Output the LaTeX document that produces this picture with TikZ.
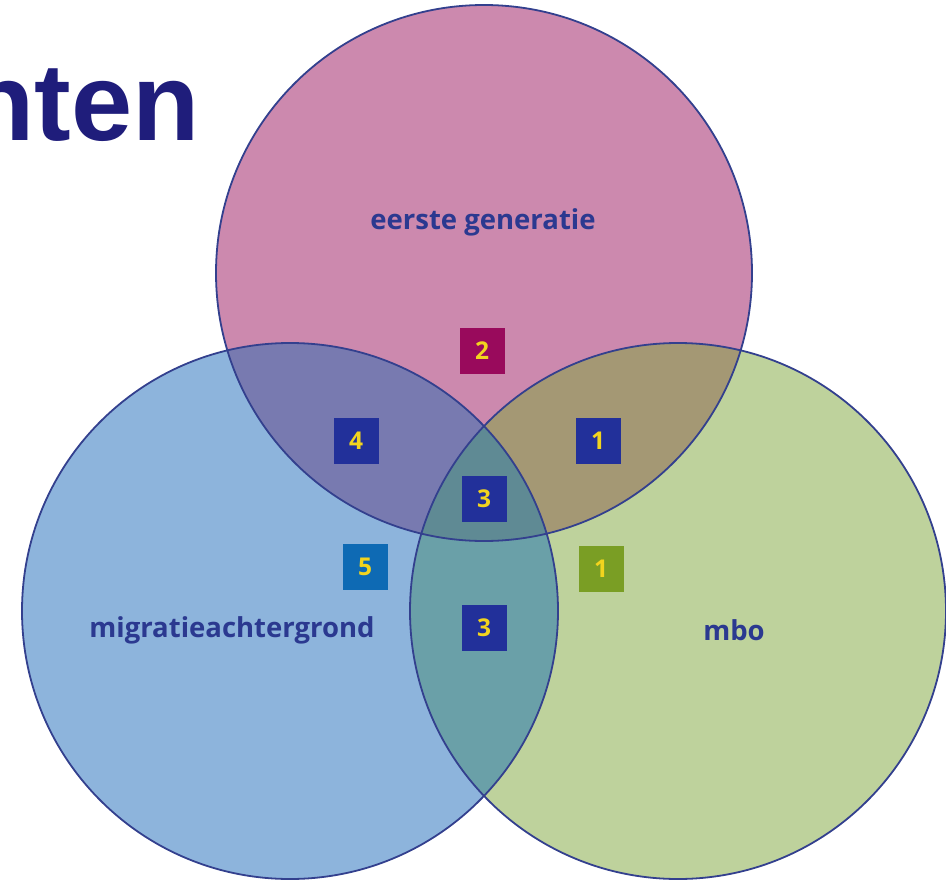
\documentclass[tikz,border=0pt]{standalone}
\usepackage{fontspec}
\setmainfont{Open Sans}
\newfontfamily\titlefont{Liberation Sans}
\definecolor{pinkc}{HTML}{CC89AE}
\definecolor{bluec}{HTML}{8DB4DC}
\definecolor{greenc}{HTML}{BED29C}
\definecolor{tlc}{HTML}{787AB0}
\definecolor{trc}{HTML}{A49874}
\definecolor{lrc}{HTML}{6AA0A8}
\definecolor{midc}{HTML}{5F8A94}
\definecolor{edgec}{HTML}{33408E}
\definecolor{labelc}{HTML}{2B3990}
\definecolor{titlec}{HTML}{1F1D7B}
\definecolor{boxblue}{HTML}{22309A}
\definecolor{boxmag}{HTML}{990A5C}
\definecolor{boxlblue}{HTML}{0E6AB4}
\definecolor{boxgreen}{HTML}{7A9E24}
\definecolor{digitc}{HTML}{F2D41E}
\begin{document}
\begin{tikzpicture}[x=1pt,y=-1pt,
  edge/.style={draw=edgec, line width=1.8pt},
  numbox/.style={minimum width=45pt, minimum height=46pt, inner sep=0pt,
    text=digitc, font=\fontsize{24.5}{24.5}\selectfont\bfseries},
  setlabel/.style={text=labelc, font=\fontsize{27.5}{27.5}\selectfont\bfseries},
  titlestyle/.style={text=titlec, font=\titlefont\fontsize{110}{110}\selectfont\bfseries, inner sep=0pt}]
\useasboundingbox (0,0) rectangle (946,881);
\coordinate (T) at (484,273);
\coordinate (L) at (290,611);
\coordinate (R) at (678,611);
% circles
\fill[pinkc] (T) circle (268pt);
\fill[bluec] (L) circle (268pt);
\fill[greenc] (R) circle (268pt);
% pairwise overlaps
\begin{scope}
  \clip (T) circle (268pt);
  \fill[tlc] (L) circle (268pt);
  \fill[trc] (R) circle (268pt);
\end{scope}
\begin{scope}
  \clip (L) circle (268pt);
  \fill[lrc] (R) circle (268pt);
\end{scope}
\begin{scope}
  \clip (T) circle (268pt);
  \clip (L) circle (268pt);
  \fill[midc] (R) circle (268pt);
\end{scope}
% outlines
\draw[edge] (T) circle (268pt);
\draw[edge] (L) circle (268pt);
\draw[edge] (R) circle (268pt);
% title
\node[titlestyle, anchor=base east] (title) at (200,140) {nten};
% labels
\node[setlabel] (lgen) at (483,222) {eerste generatie};
\node[setlabel] (lmig) at (232,630) {migratieachtergrond};
\node[setlabel] (lmbo) at (734,630) {mbo};
% number boxes
\node[numbox, fill=boxmag] (b2) at (482,351) {2};
\node[numbox, fill=boxblue] (b4) at (356,441) {4};
\node[numbox, fill=boxblue] (b1a) at (598,441) {1};
\node[numbox, fill=boxblue] (b3a) at (484,499) {3};
\node[numbox, fill=boxlblue] (b5) at (365,567) {5};
\node[numbox, fill=boxgreen] (b1b) at (601,569) {1};
\node[numbox, fill=boxblue] (b3b) at (484,628) {3};
\end{tikzpicture}
\end{document}
